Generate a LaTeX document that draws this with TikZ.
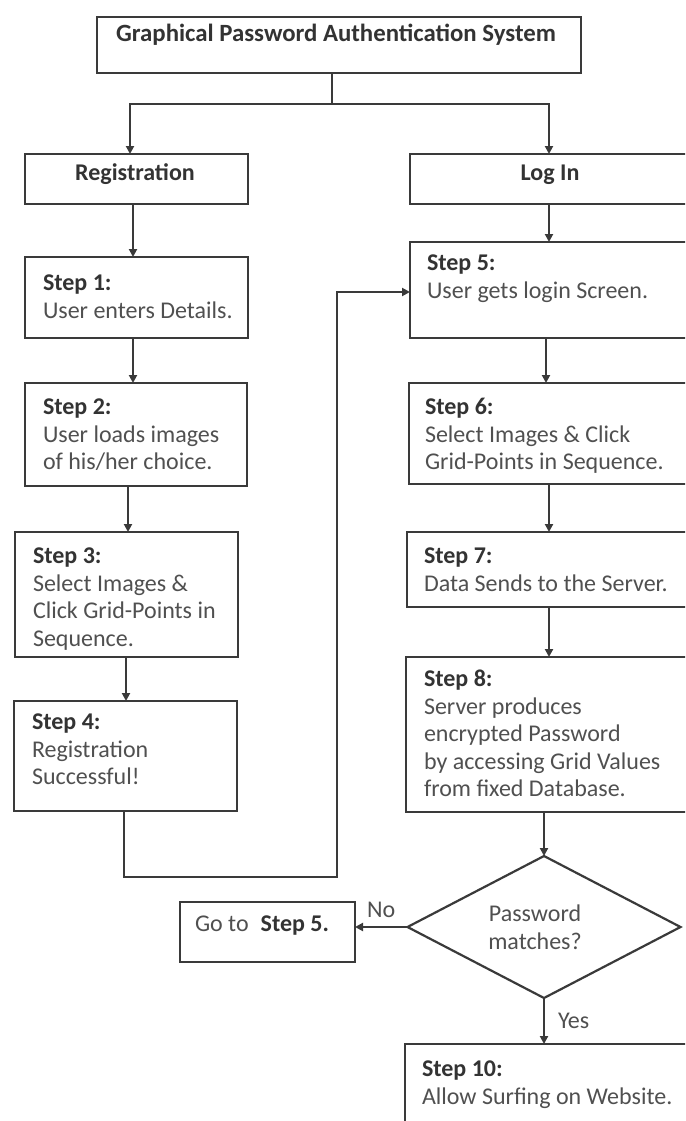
\documentclass[tikz,border=0pt]{standalone}
\usepackage{fontspec}
\setmainfont{Carlito}
\usetikzlibrary{arrows.meta,shapes.geometric}
\definecolor{linec}{HTML}{3A3A3A}
\definecolor{headc}{HTML}{333333}
\definecolor{bodyc}{HTML}{505050}
\newcommand\hd[1]{{\bfseries\color{headc}#1}}
\newcommand\boxlines[1]{\begin{tabular}[t]{@{}l@{}}#1\end{tabular}}
\begin{document}
\begin{tikzpicture}[x=1pt,y=-1pt,
  box/.style={draw=linec, line width=2.2pt, rectangle, inner sep=0pt, outer sep=0pt},
  txt/.style={inner sep=0pt, outer sep=0pt, anchor=base west, text=bodyc, font=\fontsize{24}{27.5}\selectfont},
  lbl/.style={inner sep=0pt, outer sep=0pt, text=bodyc, font=\fontsize{24}{27.5}\selectfont},
  arr/.style={draw=linec, line width=2.2pt, -{Triangle[length=8pt,width=8pt]}},
  ln/.style={draw=linec, line width=2.2pt}]
\useasboundingbox (0,0) rectangle (685,1121);
\clip (0,0) rectangle (685,1121);
\fill[white] (0,0) rectangle (685,1121);

% boxes
\node[box, minimum width=484pt, minimum height=56pt] (top) at (339,45) {};
\node[box, minimum width=223pt, minimum height=50pt] (reg) at (136.5,179) {};
\node[box, minimum width=280pt, minimum height=50pt] (login) at (550,179) {};
\node[box, minimum width=223pt, minimum height=81pt] (s1) at (136.5,297.5) {};
\node[box, minimum width=222pt, minimum height=103pt] (s2) at (136,434.5) {};
\node[box, minimum width=223pt, minimum height=125pt] (s3) at (126.5,594.5) {};
\node[box, minimum width=223pt, minimum height=110pt] (s4) at (125.5,756) {};
\node[box, minimum width=280pt, minimum height=96pt] (s5) at (550,290) {};
\node[box, minimum width=281pt, minimum height=101pt] (s6) at (549.5,433.5) {};
\node[box, minimum width=283pt, minimum height=75pt] (s7) at (548.5,569.5) {};
\node[box, minimum width=284pt, minimum height=155pt] (s8) at (548,734.5) {};
\node[draw=linec, line width=2.2pt, diamond, minimum width=273pt, minimum height=142pt, inner sep=0pt, outer sep=0pt] (dec) at (544,927) {};
\node[box, minimum width=175pt, minimum height=60pt] (goto) at (267.5,932) {};
\node[box, minimum width=285pt, minimum height=91pt] (s10) at (547.5,1089.5) {};

% texts
\node[txt, anchor=base, font=\fontsize{24.8}{27.5}\selectfont] (topt) at (336,42) {\hd{Graphical Password Authentication System}};
\node[txt, anchor=base] (regt) at (135,180) {\hd{Registration}};
\node[txt, anchor=base] (logint) at (550,180) {\hd{Log In}};
\node[txt] (s1t) at (43,290.5) {\boxlines{\hd{Step 1:}\\User enters Details.}};
\node[txt] (s2t) at (43,414.5) {\boxlines{\hd{Step 2:}\\User loads images\\of his/her choice.}};
\node[txt] (s3t) at (33,563.5) {\boxlines{\hd{Step 3:}\\Select Images \&\\Click Grid-Points in\\Sequence.}};
\node[txt] (s4t) at (32,729.5) {\boxlines{\hd{Step 4:}\\Registration\\Successful!}};
\node[txt] (s5t) at (427,270.5) {\boxlines{\hd{Step 5:}\\User gets login Screen.}};
\node[txt] (s6t) at (425,414.5) {\boxlines{\hd{Step 6:}\\Select Images \& Click\\Grid-Points in Sequence.}};
\node[txt] (s7t) at (424,563.5) {\boxlines{\hd{Step 7:}\\Data Sends to the Server.}};
\node[txt] (s8t) at (424,686.5) {\boxlines{\hd{Step 8:}\\Server produces\\encrypted Password\\by accessing Grid Values\\from fixed Database.}};
\node[txt] (s10t) at (422,1076.5) {\boxlines{\hd{Step 10:}\\Allow Surfing on Website.}};
\node[txt] (gotot) at (195,931.5) {Go to\hspace{12pt}\hd{Step 5.}};
\node[txt, anchor=base] (dect) at (535,921.5) {\begin{tabular}[t]{@{}c@{}}Password\\matches?\end{tabular}};

% connectors
\coordinate (split) at (332,104);
\draw[ln] ([xshift=-7pt]top.south) -- (split);
\draw[arr] (split) -| ([xshift=-6.5pt]reg.north);
\draw[arr] (split) -| ([xshift=-1pt]login.north);
\draw[arr] ([xshift=-3.5pt]reg.south) -- ([xshift=-3.5pt]s1.north);
\draw[arr] ([xshift=-3.5pt]s1.south) -- ([xshift=-3pt]s2.north);
\draw[arr] ([xshift=-8pt]s2.south) -- ([xshift=1.5pt]s3.north);
\draw[arr] ([xshift=-0.5pt]s3.south) -- ([xshift=0.5pt]s4.north);
\coordinate (rb) at (337,877);
\draw[arr] ([xshift=-1.5pt]s4.south) |- (rb) |- ([yshift=-2pt]s5.west);
\draw[arr] ([xshift=-1pt]login.south) -- ([xshift=-1pt]s5.north);
\draw[arr] ([xshift=-4pt]s5.south) -- ([xshift=-3.5pt]s6.north);
\draw[arr] ([xshift=-0.5pt]s6.south) -- ([xshift=0.5pt]s7.north);
\draw[arr] ([xshift=0.5pt]s7.south) -- ([xshift=1pt]s8.north);
\draw[arr] ([xshift=-4pt]s8.south) -- (dec.north);
\draw[arr] (dec.south) -- node[lbl, right=14pt] (yes) {Yes} ([xshift=-3.5pt]s10.north);
\draw[arr] (dec.west) -- node[lbl, above=9pt] (no) {No} (dec.west -| goto.east);
\end{tikzpicture}
\end{document}
